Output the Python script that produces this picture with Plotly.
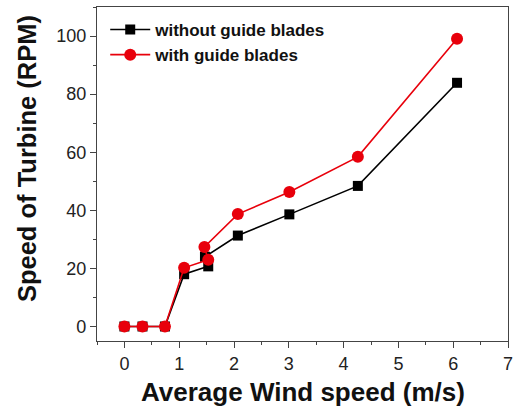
import plotly.graph_objects as go

wind_without = [0, 0.33, 0.74, 1.09, 1.53, 1.47, 2.07, 3.01, 4.26, 6.07]
rpm_without = [0, 0, 0, 18.0, 20.7, 24.0, 31.3, 38.6, 48.4, 83.9]
wind_with = [0, 0.33, 0.74, 1.09, 1.53, 1.46, 2.07, 3.01, 4.26, 6.07]
rpm_with = [0, 0, 0, 20.2, 23.0, 27.4, 38.7, 46.3, 58.4, 99.1]

x_ticks = [0, 1, 2, 3, 4, 5, 6, 7]
y_ticks = [0, 20, 40, 60, 80, 100]

x_title = "Average Wind speed (m/s)"
y_title = "Speed of Turbine (RPM)"

fig = go.Figure()
fig.add_trace(go.Scatter(
    x=wind_without, y=rpm_without, mode="lines+markers",
    name="<b>without guide blades</b>",
    line=dict(color="black", width=1.6),
    marker=dict(symbol="square", size=10, color="black"),
))
fig.add_trace(go.Scatter(
    x=wind_with, y=rpm_with, mode="lines+markers",
    name="<b>with guide blades</b>",
    line=dict(color="#e8000b", width=1.6),
    marker=dict(symbol="circle", size=12, color="#e8000b"),
))

axis_common = dict(
    showgrid=False, zeroline=False, showline=True, linecolor="#444",
    linewidth=1.2, mirror=True, ticks="outside", ticklen=6, tickwidth=1.2,
    tickcolor="#444", automargin=False,
    tickfont=dict(family="Liberation Sans, Arial", size=18, color="#222"),
)
fig.update_xaxes(
    range=[-0.5, 7], tickvals=x_ticks,
    minor=dict(ticks="outside", ticklen=3, tickcolor="#444", dtick=0.5, tick0=0),
    **axis_common,
)
fig.update_yaxes(
    range=[-5, 110], tickvals=y_ticks,
    minor=dict(ticks="outside", ticklen=3, tickcolor="#444", dtick=10, tick0=0),
    **axis_common,
)
fig.add_annotation(
    text="<b>" + x_title + "</b>", xref="paper", yref="paper",
    x=0.502, y=-0.153, xanchor="center", yanchor="middle", showarrow=False,
    font=dict(family="Liberation Sans, Arial", size=26, color="#111"),
)
fig.add_annotation(
    text="<b>" + y_title + "</b>", xref="paper", yref="paper",
    x=-0.170, y=0.545, xanchor="center", yanchor="middle", showarrow=False,
    textangle=-90,
    font=dict(family="Liberation Sans, Arial", size=25.5, color="#111"),
)
fig.update_layout(
    width=514, height=410,
    margin=dict(l=97, r=6, t=7, b=69),
    plot_bgcolor="white", paper_bgcolor="white",
    showlegend=True,
    legend=dict(x=0.02, y=0.985, xanchor="left", yanchor="top",
                bgcolor="rgba(0,0,0,0)",
                font=dict(family="Liberation Sans, Arial", size=17, color="#111"),
                itemwidth=40, tracegroupgap=0),
)
fig.write_html("out.html", config={"displayModeBar": False},
               post_script="document.body.style.margin='0';")
